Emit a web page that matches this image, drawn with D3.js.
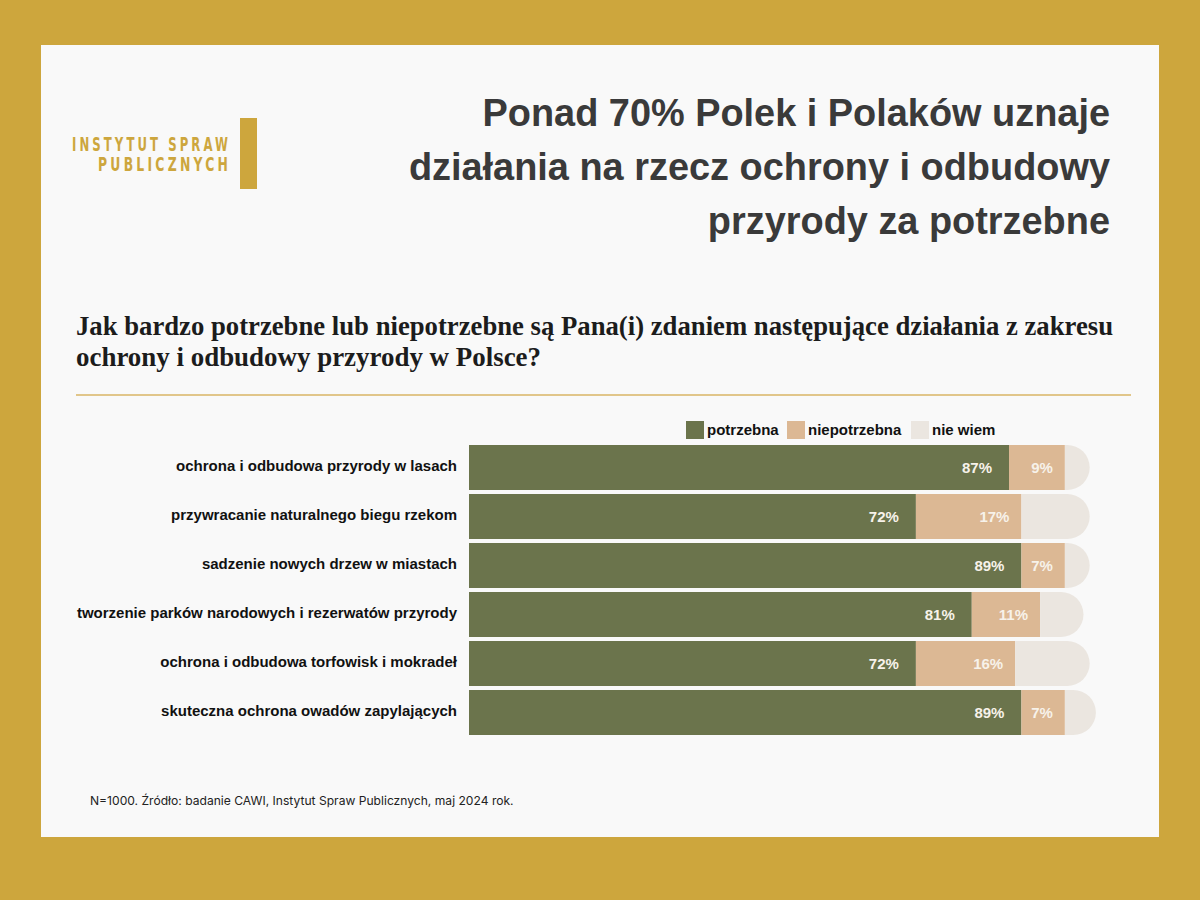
<!DOCTYPE html>
<html>
<head>
<meta charset="utf-8">
<script src="https://cdn.jsdelivr.net/npm/d3@7"></script>
<style>
  body { margin: 0; background: #cda63d; }
  svg { display: block; }
</style>
</head>
<body>
<svg id="chart"></svg>
<script>
const WIDTH = 1200;
const HEIGHT = 900;

const categories = [
  "ochrona i odbudowa przyrody w lasach",
  "przywracanie naturalnego biegu rzekom",
  "sadzenie nowych drzew w miastach",
  "tworzenie parków narodowych i rezerwatów przyrody",
  "ochrona i odbudowa torfowisk i mokradeł",
  "skuteczna ochrona owadów zapylających"
];
const potrzebna = [87, 72, 89, 81, 72, 89];
const niepotrzebna = [9, 17, 7, 11, 16, 7];
const nieWiem = [4, 11, 4, 7, 12, 5];
const seriesNames = ["potrzebna", "niepotrzebna", "nie wiem"];
const titleLines = [
  "Ponad 70% Polek i Polaków uznaje",
  "działania na rzecz ochrony i odbudowy",
  "przyrody za potrzebne"
];
const questionLines = [
  "Jak bardzo potrzebne lub niepotrzebne są Pana(i) zdaniem następujące działania z zakresu",
  "ochrony i odbudowy przyrody w Polsce?"
];
const logoLines = ["INSTYTUT SPRAW", "PUBLICZNYCH"];
const footnote = "N=1000. Źródło: badanie CAWI, Instytut Spraw Publicznych, maj 2024 rok.";

const COLORS = ["#6b744c", "#dcb894", "#ebe6e0"];
const GOLD = "#cda63d";

const svg = d3.select("#chart").attr("width", WIDTH).attr("height", HEIGHT);

// tło i karta
svg.append("rect").attr("width", WIDTH).attr("height", HEIGHT).attr("fill", GOLD);
svg.append("rect").attr("x", 41).attr("y", 45).attr("width", 1118).attr("height", 792).attr("fill", "#f9f9f9");

// logo - wąskie litery z dużym odstępem, dociśnięte do prawej krawędzi
const logoWidths = [156, 130];
svg.append("g").selectAll("text").data(logoLines).join("text")
  .attr("font-family", "'DejaVu Sans Condensed', 'DejaVu Sans'")
  .attr("font-weight", "bold").attr("font-size", 19).attr("fill", GOLD)
  .attr("letter-spacing", 4.5)
  .text((d) => d)
  .each(function (d, i) {
    const len = this.getComputedTextLength() - 4.5;
    const sx = logoWidths[i] / len;
    d3.select(this).attr("transform", `translate(${228 - logoWidths[i]}, ${151 + i * 19.5}) scale(${sx}, 1)`);
  });
svg.append("rect").attr("x", 240).attr("y", 118).attr("width", 17).attr("height", 71).attr("fill", GOLD);

// tytuł
svg.append("g").selectAll("text").data(titleLines).join("text")
  .attr("x", 1110).attr("y", (d, i) => 126 + i * 54)
  .attr("text-anchor", "end")
  .attr("font-family", "'Liberation Sans', Arial, sans-serif")
  .attr("font-weight", "bold").attr("font-size", 37.9).attr("fill", "#3a3a3a")
  .text((d) => d);

// pytanie
svg.append("g").selectAll("text").data(questionLines).join("text")
  .attr("x", 76).attr("y", (d, i) => 335 + i * 31)
  .attr("font-family", "'Liberation Serif', 'DejaVu Serif', serif")
  .attr("font-weight", "bold").attr("font-size", 27).attr("fill", "#1c1c1c")
  .attr("textLength", (d, i) => (i === 0 ? 1037 : 465))
  .attr("lengthAdjust", "spacingAndGlyphs")
  .text((d) => d);

svg.append("line").attr("x1", 76).attr("x2", 1131).attr("y1", 395).attr("y2", 395)
  .attr("stroke", "#d9b565").attr("stroke-width", 1.6);

// dane
const data = categories.map((c, i) => ({ c, vals: [potrzebna[i], niepotrzebna[i], nieWiem[i]] }));

const xScale = d3.scaleLinear().domain([0, 100]).range([469, 1089.7]);
const yScale = d3.scaleBand().domain(categories).range([445, 735]).paddingInner(4 / 49).paddingOuter(0);

const rows = svg.append("g").selectAll("g").data(data).join("g")
  .attr("transform", (d) => `translate(0, ${yScale(d.c)})`);

const h = yScale.bandwidth();
const labelPad = [17, 12];

rows.each(function (d) {
  const g = d3.select(this);
  let start = 0;
  d.vals.forEach((v, k) => {
    const x0 = xScale(start);
    const x1 = xScale(start + v);
    if (k === 2) {
      const r = Math.min(h / 2, x1 - x0);
      const p = d3.path();
      p.moveTo(x0, 0);
      p.lineTo(x1 - r, 0);
      p.arcTo(x1, 0, x1, r, r);
      p.lineTo(x1, h - r);
      p.arcTo(x1, h, x1 - r, h, r);
      p.lineTo(x0, h);
      p.closePath();
      g.append("path").attr("d", p.toString()).attr("fill", COLORS[k]);
    } else {
      g.append("rect").attr("x", x0).attr("y", 0).attr("width", x1 - x0).attr("height", h).attr("fill", COLORS[k]);
      g.append("text")
        .attr("x", x1 - labelPad[k]).attr("y", h / 2 + 5.5)
        .attr("text-anchor", "end")
        .attr("font-family", "'Liberation Sans', Arial, sans-serif")
        .attr("font-weight", "bold").attr("font-size", 15).attr("fill", "#f7f2ea")
        .text(v + "%");
    }
    start += v;
  });
});

// etykiety kategorii
svg.append("g").selectAll("text").data(categories).join("text")
  .attr("x", 457).attr("y", (d) => yScale(d) + h / 2 + 3)
  .attr("text-anchor", "end")
  .attr("font-family", "'Liberation Sans', Arial, sans-serif")
  .attr("font-weight", "bold").attr("font-size", 15).attr("fill", "#111")
  .text((d) => d);

// legenda
const legendX = [686, 787, 911];
const legend = svg.append("g").selectAll("g").data(seriesNames).join("g")
  .attr("transform", (d, i) => `translate(${legendX[i]}, 421)`);
legend.append("rect").attr("width", 18).attr("height", 18).attr("fill", (d, i) => COLORS[i]);
legend.append("text").attr("x", 21).attr("y", 14)
  .attr("font-family", "'Liberation Sans', Arial, sans-serif")
  .attr("font-weight", "bold").attr("font-size", 15).attr("fill", "#111")
  .text((d) => d);

// przypis
svg.append("text").attr("x", 90).attr("y", 805)
  .attr("font-family", "Inter, 'Open Sans', sans-serif")
  .attr("font-size", 12.1).attr("fill", "#222")
  .text(footnote);
</script>
</body>
</html>
